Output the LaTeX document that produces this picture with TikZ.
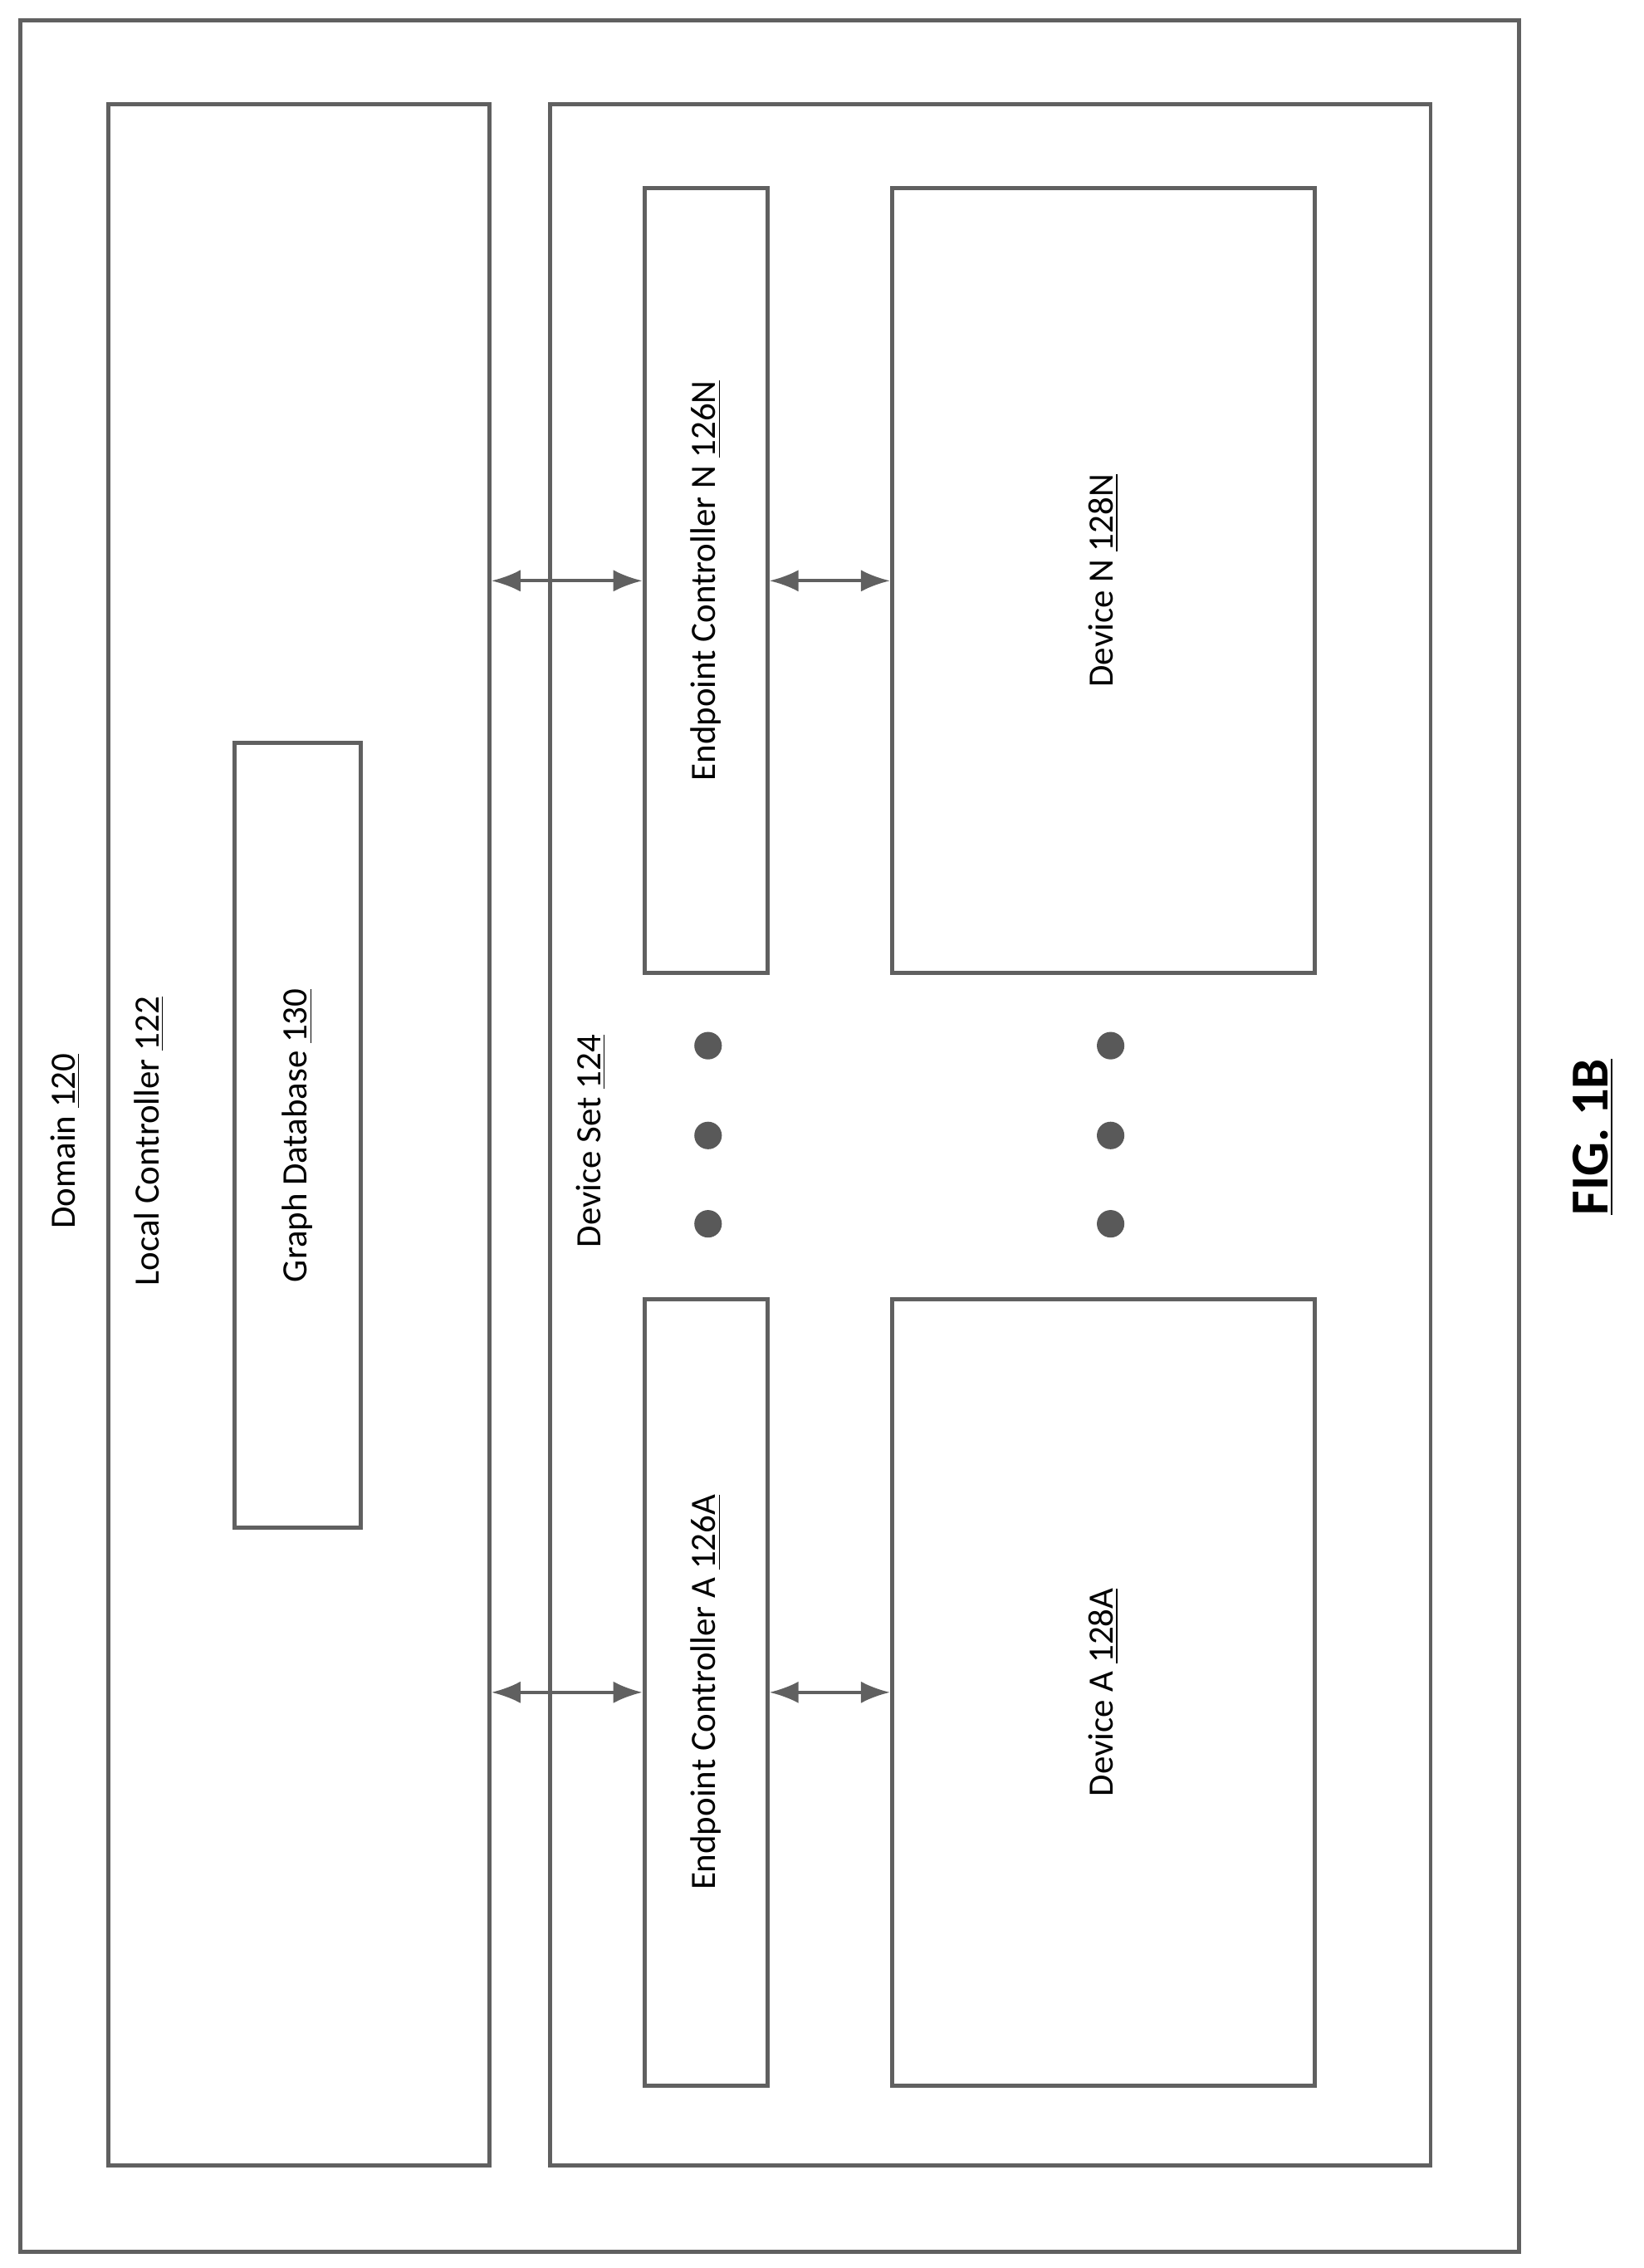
\documentclass[tikz,border=0pt]{standalone}
\usepackage{fontspec}
\setmainfont{Carlito}
\usetikzlibrary{fit,arrows.meta}
\tikzset{
  box/.style={draw=gray!75!black, line width=1.6pt, inner sep=0pt},
  lbl/.style={rotate=90, font=\fontsize{14}{16}\selectfont},
  arr/.style={{Latex[length=0.4cm,width=0.3cm]}-{Latex[length=0.4cm,width=0.3cm]}, draw=gray!75!black, line width=1.2pt},
  dot/.style={circle, fill=gray!70!black, minimum size=0.38cm, inner sep=0pt}
}
\begin{document}
\begin{tikzpicture}[x=0.02cm, y=-0.02cm]
  \useasboundingbox (0,0) rectangle (1135,1566);
  % outer boxes
  \node[box, fit={(14,14) (1049,1555)}] (dom) {};
  \node[box, fit={(75,72) (338,1495)}] (lc) {};
  \node[box, fit={(162,513) (249,1055)}] (gdb) {};
  \node[box, fit={(380,72) (988,1495)}] (ds) {};
  % endpoint controllers and devices
  \node[box, fit={(445,130) (530,672)}] (ecn) {};
  \node[box, fit={(445,897) (530,1440)}] (eca) {};
  \node[box, fit={(616,130) (908,672)}] (devn) {};
  \node[box, fit={(616,897) (908,1440)}] (deva) {};
  % labels
  \node[lbl] (domlbl) at (45,788) {Domain \underline{120}};
  \node[lbl] (lclbl) at (103,788) {Local Controller \underline{122}};
  \node[lbl] (gdblbl) at (gdb) {Graph Database \underline{130}};
  \node[lbl] (dslbl) at (408,788) {Device Set \underline{124}};
  \node[lbl] at (ecn) {Endpoint Controller N \underline{126N}};
  \node[lbl] at (eca) {Endpoint Controller A \underline{126A}};
  \node[lbl] at (devn) {Device N \underline{128N}};
  \node[lbl] at (deva) {Device A \underline{128A}};
  \node[lbl, font=\fontsize{21}{24}\selectfont\bfseries] (fig) at (1100,785) {\underline{FIG. 1B}};
  % connectors
  \draw[arr] (lc.east |- ecn) -- (ecn.west);
  \draw[arr] (lc.east |- eca) -- (eca.west);
  \draw[arr] (ecn.east) -- (devn.west);
  \draw[arr] (eca.east) -- (deva.west);
  % dots
  \foreach \y [count=\i] in {722,784,845} {
    \node[dot] (ld\i) at (489,\y) {};
    \node[dot] (rd\i) at (767,\y) {};
  }
\end{tikzpicture}
\end{document}
